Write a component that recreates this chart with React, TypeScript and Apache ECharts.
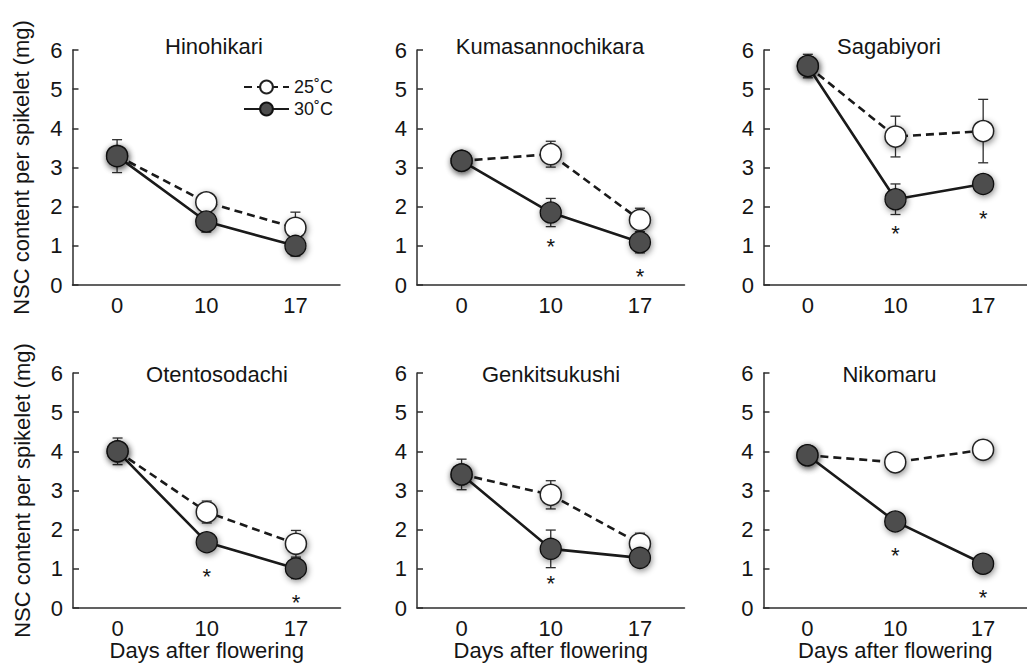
import React, { useEffect, useRef } from 'react';
import * as echarts from 'echarts';

// ---------- data ----------
const days = ['0', '10', '17'];
const cultivars = ['Hinohikari', 'Kumasannochikara', 'Sagabiyori', 'Otentosodachi', 'Genkitsukushi', 'Nikomaru'];
const seriesNames = ['25˚C', '30˚C'];

const mean25 = [
  [3.3, 2.11, 1.46],
  [3.17, 3.34, 1.66],
  [5.59, 3.79, 3.93],
  [4.0, 2.45, 1.64],
  [3.41, 2.89, 1.64],
  [3.9, 3.72, 4.04],
];
const sd25 = [
  [0.15, 0.21, 0.4],
  [0.1, 0.33, 0.3],
  [0.15, 0.52, 0.81],
  [0.2, 0.28, 0.34],
  [0.2, 0.36, 0.27],
  [0.1, 0.24, 0.24],
];
const mean30 = [
  [3.29, 1.62, 1.0],
  [3.17, 1.85, 1.09],
  [5.59, 2.19, 2.58],
  [4.0, 1.68, 1.01],
  [3.41, 1.51, 1.28],
  [3.9, 2.21, 1.13],
];
const sd30 = [
  [0.42, 0.27, 0.26],
  [0.1, 0.36, 0.27],
  [0.3, 0.39, 0.1],
  [0.34, 0.1, 0.26],
  [0.39, 0.48, 0.1],
  [0.2, 0.1, 0.2],
];
// significant difference (asterisk below the 30˚C point)
const sig = [
  [false, false, false],
  [false, true, true],
  [false, true, true],
  [false, true, true],
  [false, true, false],
  [false, true, true],
];
const yTicks = { min: 0, max: 6, interval: 1 };
const yAxisTitle = 'NSC content per spikelet (mg)';
const xAxisTitle = 'Days after flowering';

// ---------- layout / style ----------
const FONT = '"Liberation Sans", Arial, Helvetica, sans-serif';
const TXT = '#151515';
const AX = '#2e2e2e';
const gridLeft = [72.5, 417, 764, 73, 417, 763.5];
const gridTop = [50, 50, 50, 373, 373, 373];
const GW = 267.5;
const GH = 235;
const titleX = [214, 550, 889, 217, 551, 889.5];
const titleY = [46, 46, 46, 374, 374, 374];

const shadow = {
  shadowBlur: 6,
  shadowColor: 'rgba(0,0,0,0.45)',
  shadowOffsetX: 1,
  shadowOffsetY: 2,
};

export default function App() {
  const ref = useRef<HTMLDivElement>(null);

  useEffect(() => {
    const chart = echarts.init(ref.current!, null, { renderer: 'svg' });
    const grid: any[] = [];
    const xAxis: any[] = [];
    const yAxis: any[] = [];
    const series: any[] = [];
    const graphic: any[] = [];

    cultivars.forEach((name, i) => {
      const bottomRow = i >= 3;
      grid.push({ left: gridLeft[i], top: gridTop[i], width: GW, height: GH, containLabel: false });
      xAxis.push({
        type: 'category',
        gridIndex: i,
        data: days,
        boundaryGap: true,
        axisLine: { lineStyle: { color: AX, width: 1.5 } },
        axisTick: { inside: true, length: 6, lineStyle: { color: AX, width: 1.5 } },
        axisLabel: { color: TXT, fontSize: 22, fontFamily: FONT, margin: 9 },
        splitLine: { show: false },
        name: bottomRow ? xAxisTitle : '',
        nameLocation: 'middle',
        nameGap: 30,
        nameTextStyle: { color: TXT, fontSize: 22, fontFamily: FONT },
      });
      yAxis.push({
        type: 'value',
        gridIndex: i,
        min: yTicks.min,
        max: yTicks.max,
        interval: yTicks.interval,
        splitLine: { show: false },
        axisLine: { show: true, lineStyle: { color: AX, width: 1.5 } },
        axisTick: { show: true, inside: true, length: 6, lineStyle: { color: AX, width: 1.5 } },
        axisLabel: { color: TXT, fontSize: 22, fontFamily: FONT, margin: 10 },
        name: i % 3 === 0 ? yAxisTitle : '',
        nameLocation: 'middle',
        nameGap: 40,
        nameTextStyle: { color: TXT, fontSize: 22, fontFamily: FONT },
      });

      const errData = [
        ...days.map((_, j) => [j, mean25[i][j], sd25[i][j]]),
        ...days.map((_, j) => [j, mean30[i][j], sd30[i][j]]),
      ];
      series.push({
        type: 'custom',
        xAxisIndex: i,
        yAxisIndex: i,
        z: 1,
        silent: true,
        data: errData,
        encode: { x: 0, y: 1 },
        renderItem: (_params: any, api: any) => {
          const x = api.value(0);
          const y = api.value(1);
          const e = api.value(2);
          const hi = api.coord([x, y + e]);
          const lo = api.coord([x, y - e]);
          const w = 5;
          const style = { stroke: AX, lineWidth: 1.3 };
          return {
            type: 'group',
            children: [
              { type: 'line', shape: { x1: hi[0], y1: hi[1], x2: lo[0], y2: lo[1] }, style },
              { type: 'line', shape: { x1: hi[0] - w, y1: hi[1], x2: hi[0] + w, y2: hi[1] }, style },
              { type: 'line', shape: { x1: lo[0] - w, y1: lo[1], x2: lo[0] + w, y2: lo[1] }, style },
            ],
          };
        },
      });

      series.push({
        type: 'line',
        name: seriesNames[0],
        xAxisIndex: i,
        yAxisIndex: i,
        z: 2,
        data: mean25[i],
        symbol: 'circle',
        symbolSize: 21,
        lineStyle: { color: '#1a1a1a', width: 2.6, type: [8, 5] },
        itemStyle: { color: '#ffffff', borderColor: '#222222', borderWidth: 1.5, ...shadow },
        emphasis: { disabled: true },
      });
      series.push({
        type: 'line',
        name: seriesNames[1],
        xAxisIndex: i,
        yAxisIndex: i,
        z: 3,
        data: mean30[i].map((v, j) => ({
          value: v,
          label: {
            show: sig[i][j],
            formatter: '*',
            position: 'bottom',
            distance: 12,
            fontSize: 22,
            color: TXT,
            fontFamily: FONT,
          },
        })),
        symbol: 'circle',
        symbolSize: 21,
        lineStyle: { color: '#1a1a1a', width: 2.6, type: 'solid' },
        itemStyle: { color: '#4d4d4d', borderColor: '#111111', borderWidth: 1.3, ...shadow },
        emphasis: { disabled: true },
      });

      graphic.push({
        type: 'text',
        x: titleX[i],
        y: titleY[i],
        style: {
          text: name,
          fontSize: 22,
          fontFamily: FONT,
          fill: TXT,
          align: 'center',
          verticalAlign: 'middle',
        },
      });
    });

    chart.setOption({
      animation: false,
      backgroundColor: '#ffffff',
      textStyle: { fontFamily: FONT },
      grid,
      xAxis,
      yAxis,
      series,
      graphic,
      legend: {
        data: seriesNames,
        orient: 'vertical',
        left: 238,
        top: 73,
        itemWidth: 45,
        itemHeight: 16,
        itemGap: 4,
        selectedMode: false,
        textStyle: { color: TXT, fontSize: 18, fontFamily: FONT },
      },
    });

    return () => chart.dispose();
  }, []);

  return (
    <div
      ref={ref}
      style={{ position: 'fixed', left: 0, top: 0, width: 1027, height: 670, background: '#fff' }}
    />
  );
}
